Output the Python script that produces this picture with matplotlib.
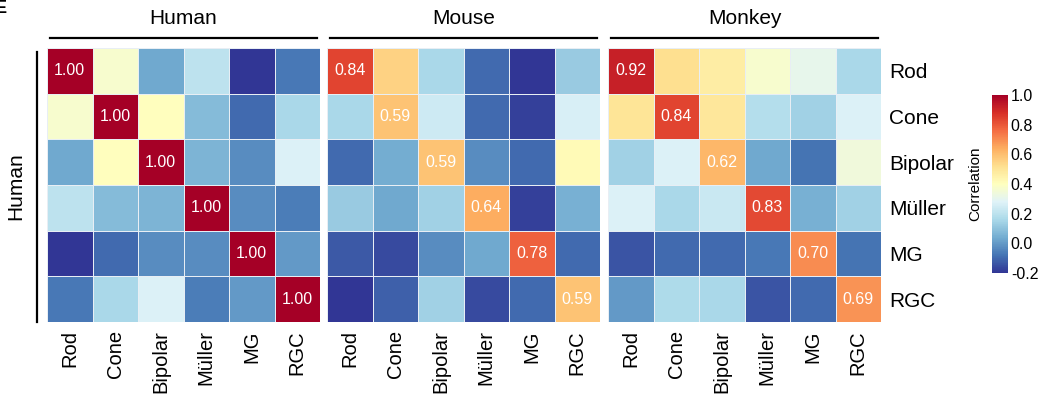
import numpy as np
import matplotlib
matplotlib.use("Agg")
import matplotlib.pyplot as plt
from matplotlib.lines import Line2D

plt.rcParams['font.family'] = ['Liberation Sans', 'DejaVu Sans']

cell_types = ["Rod", "Cone", "Bipolar", "Müller", "MG", "RGC"]
species = ["Human", "Mouse", "Monkey"]
row_species = "Human"

human = [
    [1.00, 0.37, 0.03, 0.20, -0.20, -0.07],
    [0.37, 1.00, 0.40, 0.08, -0.10, 0.16],
    [0.03, 0.40, 1.00, 0.06, -0.03, 0.27],
    [0.20, 0.08, 0.06, 1.00, -0.03, -0.06],
    [-0.20, -0.10, -0.03, -0.03, 1.00, 0.00],
    [-0.07, 0.16, 0.27, -0.06, 0.00, 1.00],
]
mouse = [
    [0.84, 0.55, 0.16, -0.10, -0.20, 0.12],
    [0.16, 0.59, 0.24, -0.10, -0.18, 0.26],
    [-0.10, 0.04, 0.59, -0.03, -0.10, 0.42],
    [0.12, 0.03, 0.14, 0.64, -0.18, 0.05],
    [-0.13, -0.16, -0.03, 0.03, 0.78, -0.10],
    [-0.20, -0.12, 0.14, -0.16, -0.10, 0.59],
]
monkey = [
    [0.92, 0.52, 0.47, 0.37, 0.31, 0.16],
    [0.50, 0.84, 0.49, 0.18, 0.14, 0.27],
    [0.14, 0.27, 0.62, 0.03, -0.08, 0.34],
    [0.27, 0.16, 0.23, 0.83, 0.05, 0.14],
    [-0.14, -0.10, -0.10, -0.07, 0.70, -0.08],
    [0.00, 0.17, 0.16, -0.14, -0.10, 0.69],
]
matrices = [human, mouse, monkey]

vmin, vmax = -0.2, 1.0
cbar_ticks = [-0.2, 0.0, 0.2, 0.4, 0.6, 0.8, 1.0]

W, H = 1040, 397
fig = plt.figure(figsize=(W / 100, H / 100), dpi=100)

def fx(px):
    return px / W

def fy(py):
    return 1 - py / H

cmap = plt.get_cmap("RdYlBu_r")
panel_x = [(47, 320), (327, 600), (608, 881)]
top, bottom = 48, 322
mesh = None
for i, (name, mat) in enumerate(zip(species, matrices)):
    x0, x1 = panel_x[i]
    ax = fig.add_axes([fx(x0), fy(bottom), fx(x1 - x0), (bottom - top) / H])
    arr = np.array(mat)
    mesh = ax.pcolormesh(arr, cmap=cmap, vmin=vmin, vmax=vmax,
                         edgecolor="#e8eef4", linewidth=0.6)
    ax.set_xlim(0, 6)
    ax.set_ylim(6, 0)
    for s in ax.spines.values():
        s.set_visible(False)
    ax.set_xticks(np.arange(6) + 0.5)
    ax.set_xticklabels(cell_types, rotation=90, fontsize=14.5)
    ax.tick_params(axis="x", length=0, pad=6)
    if i == 2:
        ax.yaxis.tick_right()
        ax.set_yticks(np.arange(6) + 0.5)
        ax.set_yticklabels(cell_types, fontsize=15)
        ax.tick_params(axis="y", length=0, pad=6)
    else:
        ax.set_yticks([])
    for k in range(6):
        ax.text(k + 0.5, k + 0.5, f"{arr[k, k]:.2f}", ha="center", va="center",
                color="white", fontsize=11.5)
    # header
    cx = (x0 + x1) / 2
    fig.text(fx(cx), fy(19), name, ha="center", va="center", fontsize=15)
    fig.add_artist(Line2D([fx(x0 + 3), fx(x1 - 3)], [fy(38), fy(38)],
                          color="black", linewidth=1.6))

# left species annotation
fig.add_artist(Line2D([fx(37), fx(37)], [fy(52), fy(322)], color="black", linewidth=1.6))
fig.text(fx(16), fy(186), row_species, rotation=90, ha="center", va="center", fontsize=15)

# colorbar
cax = fig.add_axes([fx(992), fy(273), fx(16), (273 - 95) / H])
cb = fig.colorbar(mesh, cax=cax, ticks=cbar_ticks)
cb.outline.set_visible(False)
cb.ax.tick_params(length=0, labelsize=11.5, pad=2)
cb.ax.set_yticklabels([f"{t:.1f}" for t in cbar_ticks])
fig.text(fx(975), fy(184), "Correlation", rotation=90, ha="center", va="center", fontsize=11)

# partial panel letter (cut off at the edge, as in the reference)
fig.text(fx(-5), fy(0), "E", ha="left", va="top", fontsize=13, fontweight="bold")

fig.savefig("out.png", dpi=100)
